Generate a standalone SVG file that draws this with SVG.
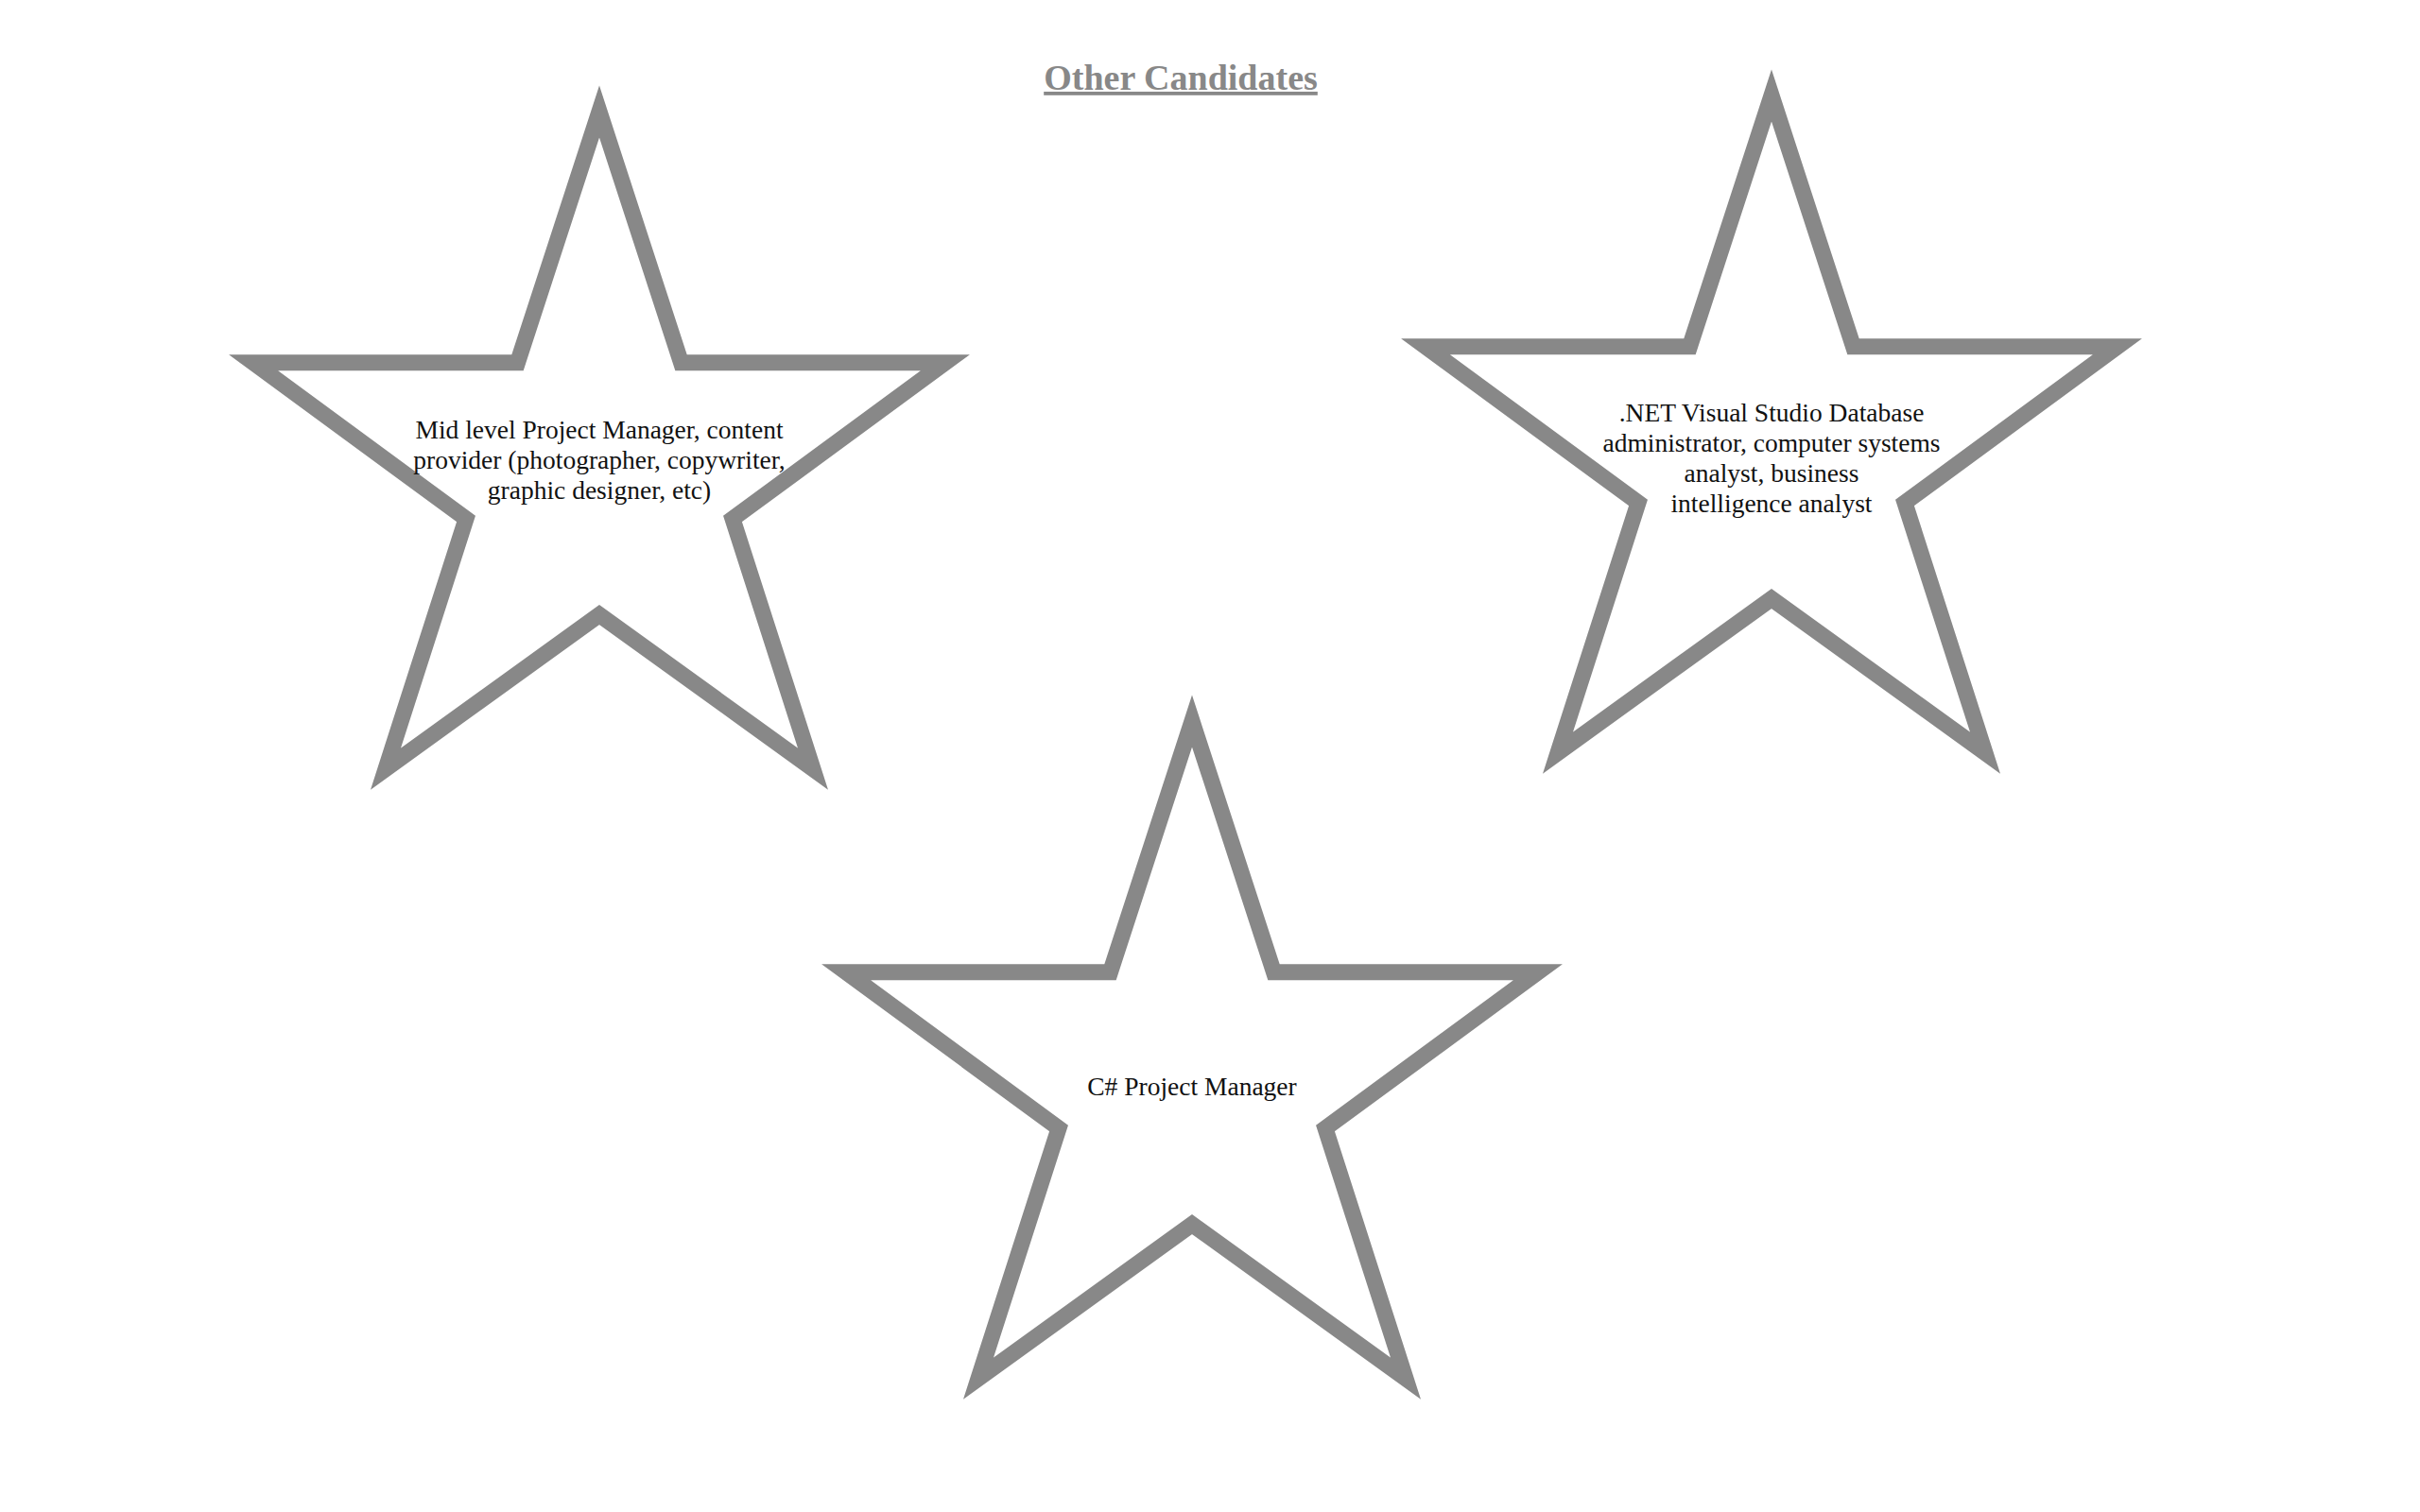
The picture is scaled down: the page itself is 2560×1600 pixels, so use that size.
<svg xmlns="http://www.w3.org/2000/svg" width="2560" height="1600" viewBox="0 0 2560 1600">
<style>
.star{fill:#ffffff;stroke:#888888;stroke-width:17;stroke-linejoin:miter;stroke-miterlimit:10}
.lbl{font-family:"Liberation Serif","Times New Roman",serif;font-size:27.5px;fill:#111111;text-anchor:middle}
.title{font-family:"Liberation Serif","Times New Roman",serif;font-size:38px;font-weight:bold;fill:#888888;text-anchor:middle;text-decoration:underline}
</style>
<defs>
<polygon id="starShape" points="0,0 86.5,265.7 366,265.7 141,431 226,695.6 0,532.5 -226,695.6 -141,431 -366,265.7 -86.5,265.7"/>
</defs>
<rect width="2560" height="1600" fill="#ffffff"/>
<text class="title" x="1249" y="95">Other Candidates</text>
<g id="star-mid-level">
<use href="#starShape" class="star" transform="translate(634,118)"/>
<text class="lbl" x="634" y="464">Mid level Project Manager, content</text>
<text class="lbl" x="634" y="496">provider (photographer, copywriter,</text>
<text class="lbl" x="634" y="528">graphic designer, etc)</text>
</g>
<g id="star-net">
<use href="#starShape" class="star" transform="translate(1874,101)"/>
<text class="lbl" x="1874" y="446">.NET Visual Studio Database</text>
<text class="lbl" x="1874" y="478">administrator, computer systems</text>
<text class="lbl" x="1874" y="510">analyst, business</text>
<text class="lbl" x="1874" y="542">intelligence analyst</text>
</g>
<g id="star-csharp">
<use href="#starShape" class="star" transform="translate(1261,763)"/>
<text class="lbl" x="1261" y="1159">C# Project Manager</text>
</g>
<g id="connectors"></g>
</svg>
